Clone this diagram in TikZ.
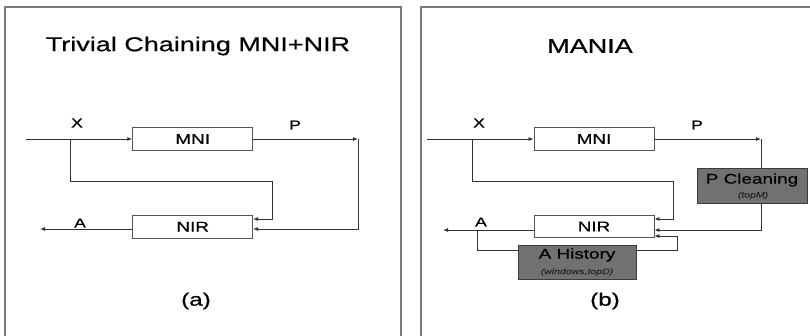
\documentclass[tikz,border=0pt]{standalone}
\usepackage{fontspec}
\setmainfont[FakeStretch=1.35,FakeBold=0.6]{Liberation Sans}
\usetikzlibrary{arrows.meta}
\definecolor{framec}{HTML}{7A7A7A}
\definecolor{wirec}{HTML}{333333}
\definecolor{boxc}{HTML}{555555}
\definecolor{grayfill}{HTML}{717171}
\tikzset{
  blk/.style={draw=boxc, line width=0.9pt, fill=white, minimum width=120pt, minimum height=22.5pt, inner sep=0pt, font=\fontsize{14}{16}\selectfont},
  gblk/.style={draw=boxc!70!black, line width=0.9pt, fill=grayfill, inner sep=0pt},
  wire/.style={draw=wirec, line width=0.8pt},
  arr/.style={wire, -{Latex[length=5pt,width=4pt]}},
  lbl/.style={font=\fontsize{13}{15}\selectfont, inner sep=0pt},
  gtxt/.style={font=\fontsize{14}{16}\selectfont, inner sep=0pt},
  stxt/.style={font=\fontsize{7.8}{9}\selectfont\itshape, text=black!85, inner sep=0pt},
  ttl/.style={font=\fontsize{20}{24}\selectfont, inner sep=0pt},
  capt/.style={font=\fontsize{18}{22}\selectfont, inner sep=0pt},
  frm/.style={draw=framec, line width=1.3pt},
}
\begin{document}
\begin{tikzpicture}[x=1pt,y=-1pt]
\useasboundingbox (0,0) rectangle (810,335);
% frames
\draw[frm] (5,340) -- (5,7) -- (401,7) -- (401,340);
\draw[frm] (421,340) -- (421,7) -- (815,7);
% titles and captions
\node[ttl] (t1) at (198,46) {Trivial Chaining MNI+NIR};
\node[ttl] (t2) at (590,46) {MANIA};
\node[capt] (ca) at (196,301) {(a)};
\node[capt] (cb) at (605,301) {(b)};

% ---------- panel (a)
\node[blk] (mni1) at (192.7,139) {MNI};
\node[blk] (nir1) at (192.7,226.7) {NIR};
\coordinate (in1) at (26,139);
\coordinate (br1) at (70,139);
\coordinate (p1) at (358,139);
\coordinate (p1d) at (358,229);
\coordinate (x1a) at (70,181);
\coordinate (x1b) at (272,181);
\coordinate (x1c) at (272,219);
\coordinate (a1) at (40,229);
\draw[arr] (in1) -- (mni1);
\draw[arr] (mni1) -- (p1);
\draw[arr] (p1) -- (p1d) -- (nir1.east |- p1d);
\draw[arr] (br1) -- (x1a) -- (x1b) -- (x1c) -- (nir1.east |- x1c);
\draw[arr] (nir1.west |- a1) -- (a1);
\node[lbl] (lx1) at (77,123) {X};
\node[lbl] (lp1) at (295,125) {P};
\node[lbl] (la1) at (80,223) {A};

% ---------- panel (b)
\node[blk] (mni2) at (594,139) {MNI};
\node[blk] (nir2) at (594,226.5) {NIR};
\node[gblk, minimum width=110pt, minimum height=35pt] (pc) at (752,185.5) {};
\node[gtxt] (pct) at (752,180) {P Cleaning};
\node[stxt] (pcs) at (753,195.5) {(topM)};
\node[gblk, minimum width=118pt, minimum height=34pt] (ah) at (577,262) {};
\node[gtxt] (aht) at (577,255) {A History};
\node[stxt] (ahs) at (577,272) {(windows,topD)};
\coordinate (in2) at (427,139);
\coordinate (br2) at (472,139);
\coordinate (x2a) at (472,181);
\coordinate (x2b) at (673,181);
\coordinate (x2c) at (673,219);
\coordinate (p2) at (761,139);
\coordinate (p2d) at (761,230);
\coordinate (a2) at (443,230);
\coordinate (ax) at (477,230);
\coordinate (ah1) at (477,250);
\coordinate (ah2) at (677,250);
\coordinate (ah3) at (677,236);
\draw[arr] (in2) -- (mni2);
\draw[arr] (mni2) -- (p2);
\draw[wire] (p2) -- (p2 |- pc.north);
\draw[arr] (p2 |- pc.south) -- (p2d) -- (nir2.east |- p2d);
\draw[arr] (br2) -- (x2a) -- (x2b) -- (x2c) -- (nir2.east |- x2c);
\draw[arr] (nir2.west |- a2) -- (a2);
\draw[wire] (ax) -- (ah1) -- (ah.west |- ah1);
\draw[arr] (ah.east |- ah2) -- (ah2) -- (ah3) -- (nir2.east |- ah3);
\node[lbl] (lx2) at (479,123) {X};
\node[lbl] (lp2) at (697,125) {P};
\node[lbl] (la2) at (481,222) {A};
\end{tikzpicture}
\end{document}
